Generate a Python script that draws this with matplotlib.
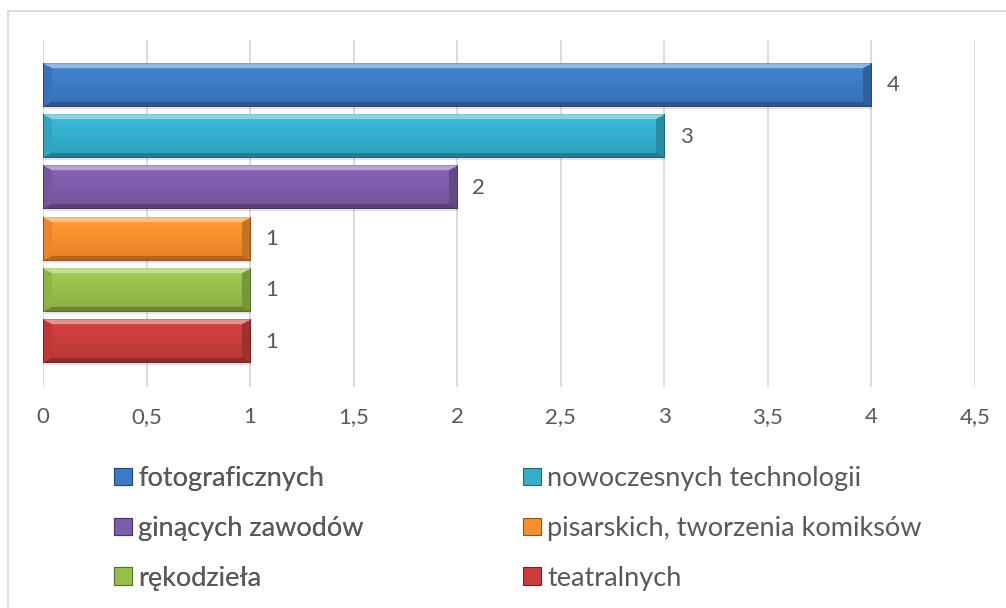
import numpy as np
import matplotlib
matplotlib.use("Agg")
import matplotlib.pyplot as plt
from matplotlib.colors import to_rgb
from matplotlib.patches import Patch, Rectangle

# data
series = ["fotograficznych", "nowoczesnych technologii", "ginących zawodów",
          "pisarskich, tworzenia komiksów", "rękodzieła", "teatralnych"]
values = [4, 3, 2, 1, 1, 1]
xticks = [0, 0.5, 1, 1.5, 2, 2.5, 3, 3.5, 4, 4.5]
xtick_labels = ["0", "0,5", "1", "1,5", "2", "2,5", "3", "3,5", "4", "4,5"]
colors = ["#3c7ac4", "#34aecb", "#7d5ca8", "#f68f2c", "#96be4b", "#c83c3c"]

TXT = "#595959"
GRID = "#d9d9d9"
plt.rcParams["font.family"] = ["Lato", "DejaVu Sans"]

W, H = 1006, 608
fig = plt.figure(figsize=(W / 100, H / 100), dpi=100)
ax = fig.add_axes([43 / W, 1 - 387 / H, (975 - 43) / W, (387 - 40) / H])

bar_h = 0.84
ypos = np.arange(len(values))
bars = ax.barh(ypos, values, height=bar_h, color=colors, zorder=2)
ax.set_xlim(0, 4.5)
ax.set_ylim(5.88, -0.88)


def bevel_img(color, nx, ny, bt=5, bb=5, bs=9):
    base = np.array(to_rgb(color))
    img = np.zeros((ny, nx, 3))
    r = np.arange(ny)[:, None] * np.ones((1, nx))
    c = np.ones((ny, 1)) * np.arange(nx)[None, :]
    d = np.stack([r / bt, (ny - 1 - r) / bb, c / bs, (nx - 1 - c) / bs])
    facet = np.argmin(d, axis=0)
    inside = d.min(axis=0) >= 1
    # body: light-to-dark vertical shading
    t = r / (ny - 1)
    shade = 1.08 - 0.16 * t
    img[:] = np.clip(base[None, None, :] * shade[..., None], 0, 1)
    img[(~inside) & (facet == 0)] = base + (1 - base) * 0.45
    img[(~inside) & (facet == 1)] = base * 0.72
    img[(~inside) & (facet == 2)] = base * 0.95
    img[(~inside) & (facet == 3)] = base * 0.8
    # thin outline
    edge = base * 0.6
    img[0, :] = base + (1 - base) * 0.3
    img[-1, :] = edge
    img[:, 0] = edge
    img[:, -1] = edge
    return img


fig.canvas.draw()
for b, col in zip(bars, colors):
    x0, y0 = b.get_x(), b.get_y()
    w, h = b.get_width(), b.get_height()
    p0 = ax.transData.transform((x0, y0))
    p1 = ax.transData.transform((x0 + w, y0 + h))
    nx = max(int(round(abs(p1[0] - p0[0]))), 20)
    ny = max(int(round(abs(p1[1] - p0[1]))), 10)
    ax.imshow(bevel_img(col, nx, ny), extent=(x0, x0 + w, y0 + h, y0),
              origin="upper", aspect="auto", zorder=3, interpolation="bilinear")
    # soft shadow
    ax.barh(y0 + h / 2 + 0.04, w, height=h, left=0.005, color="#000000",
            alpha=0.10, zorder=1.5)

ax.set_xlim(0, 4.5)
ax.set_ylim(5.88, -0.88)
ax.set_aspect("auto")

ax.bar_label(bars, labels=[str(v) for v in values], padding=11,
             fontsize=16, color=TXT)

ax.set_xticks(xticks)
ax.set_xticklabels(xtick_labels)
ax.set_yticks([])
ax.tick_params(axis="x", length=0, pad=14.5, labelsize=16, labelcolor=TXT)
ax.grid(axis="x", color=GRID, linewidth=1.3, zorder=0)
ax.set_axisbelow(True)
for s in ax.spines.values():
    s.set_visible(False)

handles = [Patch(facecolor=c, edgecolor=tuple(np.array(to_rgb(c)) * 0.6),
                 linewidth=0.8) for c in colors]
leg_kw = dict(loc="upper left", frameon=False, fontsize=19.5, labelcolor=TXT,
              handlelength=0.67, handleheight=0.63, handletextpad=0.22,
              labelspacing=0.92, borderaxespad=0, borderpad=0)
leg1 = fig.legend([handles[i] for i in (0, 2, 4)], [series[i] for i in (0, 2, 4)],
                  bbox_to_anchor=(114 / W, 1 - 466 / H), **leg_kw)
fig.legend([handles[i] for i in (1, 3, 5)], [series[i] for i in (1, 3, 5)],
           bbox_to_anchor=(523 / W, 1 - 466 / H), **leg_kw)
fig.add_artist(leg1)

# outer chart border (cropped at right and bottom)
fig.add_artist(Rectangle((8 / W, -0.1), 1.2, 1.1 - 11 / H,
                         transform=fig.transFigure, fill=False,
                         edgecolor=GRID, linewidth=1.3))

fig.savefig("out.png", dpi=100)
